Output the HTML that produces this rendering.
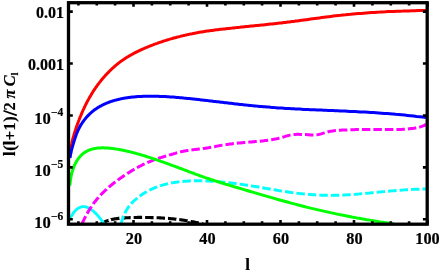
<!DOCTYPE html>
<html><head><meta charset="utf-8"><style>
html,body{margin:0;padding:0;background:#fff;}
svg{display:block;filter:blur(0.45px);}
text{font-family:"Liberation Serif",serif;font-weight:bold;font-size:16.3px;fill:#000;stroke:#000;stroke-width:0.2px;}
</style></head><body>
<svg width="439" height="273" viewBox="0 0 439 273">
<rect width="439" height="273" fill="#fff"/>
<defs><clipPath id="c"><rect x="68.5" y="2.7" width="358.7" height="221.5"/></clipPath></defs>
<g clip-path="url(#c)" fill="none" stroke-linejoin="round">
<path d="M101.0 224.1 L101.2 224.0 L101.3 223.9 L101.5 223.8 L101.6 223.7 L101.8 223.6 L101.9 223.5 L102.1 223.4 L102.2 223.3 L102.4 223.2 L102.5 223.1 L102.7 223.0 L102.8 222.9 L103.0 222.8 L103.1 222.7 L103.3 222.6 L103.5 222.5 L103.6 222.4 L103.8 222.4 L103.9 222.3 L104.1 222.2 L104.2 222.1 L104.4 222.0 L104.6 222.0 L104.7 221.9 L104.9 221.8 L105.0 221.7 L105.2 221.6 L105.4 221.6 L105.5 221.5 L105.7 221.4 L105.8 221.4 L106.0 221.3 L106.2 221.2 L106.3 221.2 L106.5 221.1 L106.7 221.0 L106.8 221.0 L107.0 220.9 L107.2 220.8 L107.3 220.8 L107.5 220.7 L107.6 220.7 L107.8 220.6 L108.0 220.6 L108.2 220.5 L108.3 220.4 L108.5 220.4 L108.7 220.3 L108.8 220.3 L109.0 220.2 L109.2 220.2 L109.3 220.1 L109.5 220.1 L109.7 220.0 L109.9 220.0 L110.0 219.9 L110.2 219.9 L110.4 219.8 L110.5 219.8 L110.7 219.8 L110.9 219.7 L111.1 219.7 L111.2 219.6 L111.4 219.6 L111.6 219.5 L111.8 219.5 L111.9 219.5 L112.1 219.4 L112.3 219.4 L112.5 219.3 L112.7 219.3 L112.8 219.3 L113.0 219.2 L113.2 219.2 L113.4 219.2 L113.6 219.1 L113.7 219.1 L113.9 219.1 L114.1 219.0 L114.3 219.0 L114.5 219.0 L114.7 218.9 L114.8 218.9 L115.0 218.9 L115.2 218.8 L115.4 218.8 L115.6 218.8 L115.8 218.8 L116.0 218.7 L116.1 218.7 L116.3 218.7 L116.5 218.7 L116.7 218.6 L116.9 218.6 L117.1 218.6 L117.3 218.6 L117.5 218.5 L117.7 218.5 L117.8 218.5 L118.0 218.5 L118.2 218.4 L118.4 218.4 L118.6 218.4 L118.8 218.4 L119.0 218.4 L119.2 218.3 L119.4 218.3 L119.6 218.3 L119.8 218.3 L120.0 218.3 L120.2 218.2 L120.4 218.2 L120.6 218.2 L120.8 218.2 L121.0 218.2 L121.2 218.1 L121.4 218.1 L121.6 218.1 L121.8 218.1 L122.0 218.1 L122.2 218.1 L122.4 218.0 L122.6 218.0 L122.8 218.0 L123.0 218.0 L123.2 218.0 L123.4 218.0 L123.6 218.0 L123.8 217.9 L124.0 217.9 L124.2 217.9 L124.4 217.9 L124.6 217.9 L124.9 217.9 L125.1 217.9 L125.3 217.8 L125.5 217.8 L125.7 217.8 L125.9 217.8 L126.1 217.8 L126.3 217.8 L126.5 217.8 L126.8 217.8 L127.0 217.8 L127.2 217.7 L127.4 217.7 L127.6 217.7 L127.8 217.7 L128.1 217.7 L128.3 217.7 L128.5 217.7 L128.7 217.7 L128.9 217.7 L129.1 217.7 L129.4 217.6 L129.6 217.6 L129.8 217.6 L130.0 217.6 L130.2 217.6 L130.5 217.6 L130.7 217.6 L130.9 217.6 L131.1 217.6 L131.4 217.6 L131.6 217.6 L131.8 217.6 L132.0 217.5 L132.3 217.5 L132.5 217.5 L132.7 217.5 L133.0 217.5 L133.2 217.5 L133.4 217.5 L133.6 217.5 L133.9 217.5 L134.1 217.5 L134.3 217.5 L134.6 217.5 L134.8 217.5 L135.0 217.5 L135.3 217.5 L135.5 217.5 L135.7 217.5 L136.0 217.5 L136.2 217.5 L136.5 217.5 L136.7 217.5 L136.9 217.5 L137.2 217.5 L137.4 217.4 L137.6 217.4 L137.9 217.4 L138.1 217.4 L138.4 217.4 L138.6 217.4 L138.9 217.4 L139.1 217.4 L139.3 217.4 L139.6 217.4 L139.8 217.4 L140.1 217.4 L140.3 217.4 L140.6 217.4 L140.8 217.4 L141.1 217.4 L141.3 217.4 L141.6 217.4 L141.8 217.4 L142.1 217.4 L142.3 217.4 L142.6 217.4 L142.8 217.4 L143.1 217.4 L143.3 217.4 L143.6 217.4 L143.9 217.4 L144.1 217.4 L144.4 217.5 L144.6 217.5 L144.9 217.5 L145.1 217.5 L145.4 217.5 L145.7 217.5 L145.9 217.5 L146.2 217.5 L146.4 217.5 L146.7 217.5 L147.0 217.5 L147.2 217.5 L147.5 217.5 L147.8 217.5 L148.0 217.5 L148.3 217.5 L148.6 217.5 L148.8 217.5 L149.1 217.5 L149.4 217.5 L149.6 217.5 L149.9 217.5 L150.2 217.5 L150.4 217.5 L150.7 217.6 L151.0 217.6 L151.3 217.6 L151.5 217.6 L151.8 217.6 L152.1 217.6 L152.4 217.6 L152.6 217.6 L152.9 217.6 L153.2 217.6 L153.5 217.6 L153.8 217.6 L154.0 217.6 L154.3 217.6 L154.6 217.7 L154.9 217.7 L155.2 217.7 L155.5 217.7 L155.7 217.7 L156.0 217.7 L156.3 217.7 L156.6 217.7 L156.9 217.7 L157.2 217.8 L157.5 217.8 L157.8 217.8 L158.0 217.8 L158.3 217.8 L158.6 217.8 L158.9 217.8 L159.2 217.8 L159.5 217.9 L159.8 217.9 L160.1 217.9 L160.4 217.9 L160.7 217.9 L161.0 217.9 L161.3 218.0 L161.6 218.0 L161.9 218.0 L162.2 218.0 L162.5 218.0 L162.8 218.0 L163.1 218.1 L163.4 218.1 L163.7 218.1 L164.0 218.1 L164.3 218.1 L164.6 218.2 L164.9 218.2 L165.2 218.2 L165.5 218.2 L165.9 218.2 L166.2 218.3 L166.5 218.3 L166.8 218.3 L167.1 218.3 L167.4 218.4 L167.7 218.4 L168.0 218.4 L168.4 218.4 L168.7 218.5 L169.0 218.5 L169.3 218.5 L169.6 218.6 L169.9 218.6 L170.3 218.6 L170.6 218.6 L170.9 218.7 L171.2 218.7 L171.6 218.7 L171.9 218.8 L172.2 218.8 L172.5 218.8 L172.9 218.9 L173.2 218.9 L173.5 218.9 L173.8 219.0 L174.2 219.0 L174.5 219.0 L174.8 219.1 L175.2 219.1 L175.5 219.1 L175.8 219.2 L176.2 219.2 L176.5 219.3 L176.8 219.3 L177.2 219.3 L177.5 219.4 L177.9 219.4 L178.2 219.5 L178.5 219.5 L178.9 219.6 L179.2 219.6 L179.6 219.6 L179.9 219.7 L180.3 219.7 L180.6 219.8 L181.0 219.8 L181.3 219.9 L181.6 219.9 L182.0 220.0 L182.3 220.0 L182.7 220.1 L183.0 220.1 L183.4 220.2 L183.8 220.2 L184.1 220.3 L184.5 220.3 L184.8 220.4 L185.2 220.5 L185.5 220.5 L185.9 220.6 L186.3 220.6 L186.6 220.7 L187.0 220.7 L187.3 220.8 L187.7 220.9 L188.1 220.9 L188.4 221.0 L188.8 221.1 L189.2 221.1 L189.5 221.2 L189.9 221.3 L190.3 221.3 L190.6 221.4 L191.0 221.5 L191.4 221.5 L191.8 221.6 L192.1 221.7 L192.5 221.7 L192.9 221.8 L193.3 221.9 L193.6 221.9 L194.0 222.0 L194.4 222.1 L194.8 222.2 L195.2 222.2 L195.5 222.3 L195.9 222.4 L196.3 222.5 L196.7 222.6 L197.1 222.6 L197.5 222.7 L197.9 222.8 L198.3 222.9 L198.6 223.0 L199.0 223.1 L199.4 223.1 L199.8 223.2 L200.2 223.3 L200.6 223.4 L201.0 223.5 L201.4 223.6 L201.8 223.7 L202.2 223.8 L202.6 223.9 L203.0 224.0" stroke="#000" stroke-width="3.1" stroke-dasharray="8.5 3"/>
<path d="M69.5 219.7 L69.6 219.6 L69.6 219.4 L69.7 219.3 L69.7 219.2 L69.8 219.1 L69.8 219.0 L69.9 218.9 L70.0 218.7 L70.0 218.6 L70.1 218.5 L70.1 218.4 L70.2 218.3 L70.3 218.2 L70.3 218.1 L70.4 217.9 L70.4 217.8 L70.5 217.7 L70.5 217.6 L70.6 217.5 L70.7 217.4 L70.7 217.3 L70.8 217.2 L70.8 217.1 L70.9 216.9 L71.0 216.8 L71.0 216.7 L71.1 216.6 L71.1 216.5 L71.2 216.4 L71.3 216.3 L71.3 216.2 L71.4 216.1 L71.5 216.0 L71.5 215.9 L71.6 215.8 L71.6 215.7 L71.7 215.6 L71.8 215.5 L71.8 215.4 L71.9 215.3 L71.9 215.2 L72.0 215.1 L72.1 215.0 L72.1 214.9 L72.2 214.8 L72.3 214.7 L72.3 214.6 L72.4 214.5 L72.4 214.4 L72.5 214.3 L72.6 214.2 L72.6 214.1 L72.7 214.0 L72.8 213.9 L72.8 213.8 L72.9 213.7 L73.0 213.6 L73.0 213.5 L73.1 213.4 L73.1 213.4 L73.2 213.3 L73.3 213.2 L73.3 213.1 L73.4 213.0 L73.5 212.9 L73.5 212.8 L73.6 212.7 L73.7 212.7 L73.7 212.6 L73.8 212.5 L73.9 212.4 L73.9 212.3 L74.0 212.2 L74.1 212.1 L74.1 212.1 L74.2 212.0 L74.3 211.9 L74.3 211.8 L74.4 211.7 L74.5 211.7 L74.5 211.6 L74.6 211.5 L74.7 211.4 L74.7 211.3 L74.8 211.3 L74.9 211.2 L74.9 211.1 L75.0 211.0 L75.1 211.0 L75.1 210.9 L75.2 210.8 L75.3 210.7 L75.3 210.7 L75.4 210.6 L75.5 210.5 L75.5 210.5 L75.6 210.4 L75.7 210.3 L75.8 210.3 L75.8 210.2 L75.9 210.1 L76.0 210.1 L76.0 210.0 L76.1 209.9 L76.2 209.9 L76.2 209.8 L76.3 209.7 L76.4 209.7 L76.5 209.6 L76.5 209.5 L76.6 209.5 L76.7 209.4 L76.7 209.4 L76.8 209.3 L76.9 209.2 L76.9 209.2 L77.0 209.1 L77.1 209.1 L77.2 209.0 L77.2 209.0 L77.3 208.9 L77.4 208.8 L77.5 208.8 L77.5 208.7 L77.6 208.7 L77.7 208.6 L77.7 208.6 L77.8 208.5 L77.9 208.5 L78.0 208.4 L78.0 208.4 L78.1 208.3 L78.2 208.3 L78.3 208.2 L78.3 208.2 L78.4 208.2 L78.5 208.1 L78.6 208.1 L78.6 208.0 L78.7 208.0 L78.8 207.9 L78.9 207.9 L78.9 207.9 L79.0 207.8 L79.1 207.8 L79.2 207.7 L79.2 207.7 L79.3 207.7 L79.4 207.6 L79.5 207.6 L79.5 207.6 L79.6 207.5 L79.7 207.5 L79.8 207.4 L79.9 207.4 L79.9 207.4 L80.0 207.4 L80.1 207.3 L80.2 207.3 L80.2 207.3 L80.3 207.2 L80.4 207.2 L80.5 207.2 L80.6 207.2 L80.6 207.1 L80.7 207.1 L80.8 207.1 L80.9 207.1 L81.0 207.0 L81.0 207.0 L81.1 207.0 L81.2 207.0 L81.3 206.9 L81.4 206.9 L81.4 206.9 L81.5 206.9 L81.6 206.9 L81.7 206.9 L81.8 206.8 L81.8 206.8 L81.9 206.8 L82.0 206.8 L82.1 206.8 L82.2 206.8 L82.2 206.8 L82.3 206.7 L82.4 206.7 L82.5 206.7 L82.6 206.7 L82.7 206.7 L82.7 206.7 L82.8 206.7 L82.9 206.7 L83.0 206.7 L83.1 206.7 L83.2 206.7 L83.2 206.7 L83.3 206.7 L83.4 206.7 L83.5 206.7 L83.6 206.7 L83.7 206.7 L83.7 206.7 L83.8 206.7 L83.9 206.7 L84.0 206.7 L84.1 206.7 L84.2 206.7 L84.3 206.7 L84.3 206.7 L84.4 206.7 L84.5 206.7 L84.6 206.7 L84.7 206.8 L84.8 206.8 L84.9 206.8 L85.0 206.8 L85.0 206.8 L85.1 206.8 L85.2 206.8 L85.3 206.8 L85.4 206.9 L85.5 206.9 L85.6 206.9 L85.7 206.9 L85.7 206.9 L85.8 207.0 L85.9 207.0 L86.0 207.0 L86.1 207.0 L86.2 207.0 L86.3 207.1 L86.4 207.1 L86.5 207.1 L86.6 207.2 L86.6 207.2 L86.7 207.2 L86.8 207.2 L86.9 207.3 L87.0 207.3 L87.1 207.3 L87.2 207.4 L87.3 207.4 L87.4 207.4 L87.5 207.5 L87.6 207.5 L87.6 207.5 L87.7 207.6 L87.8 207.6 L87.9 207.7 L88.0 207.7 L88.1 207.7 L88.2 207.8 L88.3 207.8 L88.4 207.9 L88.5 207.9 L88.6 208.0 L88.7 208.0 L88.8 208.0 L88.9 208.1 L89.0 208.1 L89.1 208.2 L89.2 208.2 L89.2 208.3 L89.3 208.3 L89.4 208.4 L89.5 208.5 L89.6 208.5 L89.7 208.6 L89.8 208.6 L89.9 208.7 L90.0 208.7 L90.1 208.8 L90.2 208.9 L90.3 208.9 L90.4 209.0 L90.5 209.0 L90.6 209.1 L90.7 209.2 L90.8 209.2 L90.9 209.3 L91.0 209.4 L91.1 209.4 L91.2 209.5 L91.3 209.6 L91.4 209.6 L91.5 209.7 L91.6 209.8 L91.7 209.9 L91.8 209.9 L91.9 210.0 L92.0 210.1 L92.1 210.2 L92.2 210.2 L92.3 210.3 L92.4 210.4 L92.5 210.5 L92.6 210.5 L92.7 210.6 L92.8 210.7 L92.9 210.8 L93.0 210.9 L93.1 211.0 L93.2 211.1 L93.3 211.1 L93.4 211.2 L93.5 211.3 L93.6 211.4 L93.7 211.5 L93.8 211.6 L94.0 211.7 L94.1 211.8 L94.2 211.9 L94.3 212.0 L94.4 212.1 L94.5 212.2 L94.6 212.3 L94.7 212.4 L94.8 212.5 L94.9 212.6 L95.0 212.7 L95.1 212.8 L95.2 212.9 L95.3 213.0 L95.4 213.1 L95.5 213.2 L95.7 213.3 L95.8 213.4 L95.9 213.5 L96.0 213.6 L96.1 213.7 L96.2 213.9 L96.3 214.0 L96.4 214.1 L96.5 214.2 L96.6 214.3 L96.7 214.4 L96.9 214.6 L97.0 214.7 L97.1 214.8 L97.2 214.9 L97.3 215.0 L97.4 215.2 L97.5 215.3 L97.6 215.4 L97.7 215.5 L97.9 215.7 L98.0 215.8 L98.1 215.9 L98.2 216.1 L98.3 216.2 L98.4 216.3 L98.5 216.5 L98.6 216.6 L98.8 216.7 L98.9 216.9 L99.0 217.0 L99.1 217.1 L99.2 217.3 L99.3 217.4 L99.4 217.6 L99.6 217.7 L99.7 217.8 L99.8 218.0 L99.9 218.1 L100.0 218.3 L100.1 218.4 L100.3 218.6 L100.4 218.7 L100.5 218.9 L100.6 219.0 L100.7 219.2 L100.9 219.3 L101.0 219.5 L101.1 219.6 L101.2 219.8 L101.3 220.0 L101.4 220.1 L101.6 220.3 L101.7 220.4 L101.8 220.6 L101.9 220.8 L102.0 220.9 L102.2 221.1 L102.3 221.3 L102.4 221.4 L102.5 221.6 L102.6 221.8 L102.8 221.9 L102.9 222.1 L103.0 222.3 L103.1 222.4 L103.3 222.6 L103.4 222.8 L103.5 223.0 L103.6 223.1 L103.8 223.3 L103.9 223.5 L104.0 223.7" stroke="#00ffff" stroke-width="2.8"/>
<path d="M121.0 224.0 L121.1 223.5 L121.3 223.0 L121.4 222.5 L121.6 222.0 L121.7 221.5 L121.9 221.0 L122.0 220.5 L122.2 220.1 L122.3 219.6 L122.5 219.2 L122.6 218.7 L122.8 218.3 L123.0 217.8 L123.1 217.4 L123.3 217.0 L123.4 216.6 L123.6 216.2 L123.8 215.8 L123.9 215.4 L124.1 215.0 L124.3 214.6 L124.4 214.2 L124.6 213.9 L124.8 213.5 L124.9 213.1 L125.1 212.8 L125.3 212.4 L125.5 212.1 L125.6 211.7 L125.8 211.4 L126.0 211.1 L126.2 210.7 L126.3 210.4 L126.5 210.1 L126.7 209.8 L126.9 209.5 L127.1 209.2 L127.3 208.9 L127.5 208.6 L127.6 208.3 L127.8 208.0 L128.0 207.7 L128.2 207.4 L128.4 207.1 L128.6 206.9 L128.8 206.6 L129.0 206.3 L129.2 206.1 L129.4 205.8 L129.6 205.6 L129.8 205.3 L130.0 205.0 L130.2 204.8 L130.4 204.6 L130.6 204.3 L130.9 204.1 L131.1 203.8 L131.3 203.6 L131.5 203.4 L131.7 203.1 L131.9 202.9 L132.2 202.7 L132.4 202.4 L132.6 202.2 L132.8 202.0 L133.1 201.8 L133.3 201.5 L133.5 201.3 L133.7 201.1 L134.0 200.9 L134.2 200.7 L134.4 200.5 L134.7 200.2 L134.9 200.0 L135.2 199.8 L135.4 199.6 L135.7 199.4 L135.9 199.2 L136.1 199.0 L136.4 198.8 L136.6 198.5 L136.9 198.3 L137.2 198.1 L137.4 197.9 L137.7 197.7 L137.9 197.5 L138.2 197.3 L138.4 197.1 L138.7 196.9 L139.0 196.7 L139.3 196.5 L139.5 196.3 L139.8 196.1 L140.1 195.9 L140.3 195.7 L140.6 195.5 L140.9 195.3 L141.2 195.1 L141.5 194.9 L141.8 194.7 L142.0 194.5 L142.3 194.3 L142.6 194.1 L142.9 193.9 L143.2 193.7 L143.5 193.5 L143.8 193.4 L144.1 193.2 L144.4 193.0 L144.7 192.8 L145.0 192.6 L145.3 192.4 L145.7 192.2 L146.0 192.1 L146.3 191.9 L146.6 191.7 L146.9 191.5 L147.3 191.3 L147.6 191.2 L147.9 191.0 L148.2 190.8 L148.6 190.6 L148.9 190.5 L149.2 190.3 L149.6 190.1 L149.9 189.9 L150.3 189.8 L150.6 189.6 L151.0 189.4 L151.3 189.3 L151.7 189.1 L152.0 189.0 L152.4 188.8 L152.7 188.6 L153.1 188.5 L153.5 188.3 L153.8 188.2 L154.2 188.0 L154.6 187.9 L155.0 187.7 L155.3 187.5 L155.7 187.4 L156.1 187.3 L156.5 187.1 L156.9 187.0 L157.3 186.8 L157.7 186.7 L158.1 186.5 L158.5 186.4 L158.9 186.3 L159.3 186.1 L159.7 186.0 L160.1 185.8 L160.5 185.7 L160.9 185.6 L161.4 185.5 L161.8 185.3 L162.2 185.2 L162.6 185.1 L163.1 184.9 L163.5 184.8 L163.9 184.7 L164.4 184.6 L164.8 184.5 L165.3 184.4 L165.7 184.2 L166.2 184.1 L166.6 184.0 L167.1 183.9 L167.6 183.8 L168.0 183.7 L168.5 183.6 L169.0 183.5 L169.4 183.4 L169.9 183.3 L170.4 183.2 L170.9 183.1 L171.4 183.0 L171.9 182.9 L172.4 182.8 L172.9 182.7 L173.4 182.6 L173.9 182.6 L174.4 182.5 L174.9 182.4 L175.4 182.3 L175.9 182.2 L176.5 182.2 L177.0 182.1 L177.5 182.0 L178.0 181.9 L178.6 181.9 L179.1 181.8 L179.7 181.7 L180.2 181.7 L180.8 181.6 L181.3 181.6 L181.9 181.5 L182.5 181.5 L183.0 181.4 L183.6 181.4 L184.2 181.3 L184.8 181.3 L185.3 181.2 L185.9 181.2 L186.5 181.1 L187.1 181.1 L187.7 181.1 L188.3 181.0 L188.9 181.0 L189.5 181.0 L190.2 180.9 L190.8 180.9 L191.4 180.9 L192.0 180.9 L192.7 180.9 L193.3 180.8 L194.0 180.8 L194.6 180.8 L195.3 180.8 L195.9 180.8 L196.6 180.8 L197.2 180.8 L197.9 180.8 L198.6 180.8 L199.3 180.8 L200.0 180.8 L200.6 180.8 L201.3 180.8 L202.0 180.8 L202.7 180.8 L203.4 180.9 L204.2 180.9 L204.9 180.9 L205.6 180.9 L206.3 181.0 L207.1 181.0 L207.8 181.0 L208.5 181.1 L209.3 181.1 L210.1 181.1 L210.8 181.2 L211.6 181.2 L212.3 181.3 L213.1 181.3 L213.9 181.4 L214.7 181.4 L215.5 181.5 L216.3 181.5 L217.1 181.6 L217.9 181.7 L218.7 181.7 L219.5 181.8 L220.3 181.9 L221.2 181.9 L222.0 182.0 L222.8 182.1 L223.7 182.2 L224.5 182.3 L225.4 182.4 L226.3 182.5 L227.1 182.5 L228.0 182.6 L228.9 182.7 L229.8 182.8 L230.7 182.9 L231.6 183.1 L232.5 183.2 L233.4 183.3 L234.3 183.4 L235.3 183.5 L236.2 183.6 L237.1 183.8 L238.1 183.9 L239.0 184.0 L240.0 184.1 L240.9 184.3 L241.9 184.4 L242.9 184.6 L243.9 184.7 L244.9 184.9 L245.9 185.0 L246.9 185.2 L247.9 185.3 L248.9 185.5 L249.9 185.6 L251.0 185.8 L252.0 186.0 L253.1 186.1 L254.1 186.3 L255.2 186.5 L256.3 186.7 L257.3 186.8 L258.4 187.0 L259.5 187.2 L260.6 187.4 L261.7 187.6 L262.8 187.8 L264.0 188.0 L265.1 188.2 L266.2 188.4 L267.4 188.6 L268.5 188.8 L269.7 189.0 L270.9 189.2 L272.0 189.4 L273.2 189.6 L274.4 189.8 L275.6 190.0 L276.8 190.2 L278.0 190.4 L279.3 190.7 L280.5 190.9 L281.8 191.1 L283.0 191.3 L284.3 191.4 L285.5 191.6 L286.8 191.8 L288.1 192.0 L289.4 192.2 L290.7 192.4 L292.0 192.6 L293.4 192.7 L294.7 192.9 L296.0 193.1 L297.4 193.3 L298.7 193.4 L300.1 193.6 L301.5 193.7 L302.9 193.9 L304.3 194.0 L305.7 194.1 L307.1 194.3 L308.5 194.4 L310.0 194.5 L311.4 194.6 L312.9 194.7 L314.4 194.8 L315.8 194.9 L317.3 195.0 L318.8 195.1 L320.3 195.1 L321.9 195.2 L323.4 195.2 L324.9 195.3 L326.5 195.3 L328.0 195.3 L329.6 195.4 L331.2 195.4 L332.8 195.4 L334.4 195.3 L336.0 195.3 L337.6 195.3 L339.3 195.2 L340.9 195.2 L342.6 195.1 L344.3 195.0 L345.9 194.9 L347.6 194.8 L349.3 194.7 L351.1 194.6 L352.8 194.5 L354.5 194.4 L356.3 194.2 L358.1 194.1 L359.8 193.9 L361.6 193.7 L363.4 193.6 L365.3 193.4 L367.1 193.2 L368.9 193.1 L370.8 192.9 L372.7 192.7 L374.5 192.5 L376.4 192.3 L378.3 192.1 L380.3 192.0 L382.2 191.8 L384.1 191.6 L386.1 191.4 L388.1 191.2 L390.1 191.0 L392.1 190.9 L394.1 190.7 L396.1 190.5 L398.1 190.4 L400.2 190.2 L402.3 190.1 L404.3 189.9 L406.4 189.8 L408.6 189.7 L410.7 189.5 L412.8 189.4 L415.0 189.3 L417.2 189.2 L419.3 189.2 L421.5 189.1 L423.8 189.0 L426.0 189.0" stroke="#00ffff" stroke-width="2.9" stroke-dasharray="8.5 3"/>
<path d="M82.0 223.9 L82.2 223.4 L82.5 222.9 L82.7 222.4 L82.9 221.8 L83.2 221.3 L83.4 220.8 L83.7 220.3 L83.9 219.8 L84.2 219.3 L84.4 218.8 L84.6 218.3 L84.9 217.8 L85.1 217.3 L85.4 216.8 L85.7 216.3 L85.9 215.8 L86.2 215.3 L86.4 214.8 L86.7 214.4 L86.9 213.9 L87.2 213.4 L87.5 213.0 L87.7 212.5 L88.0 212.0 L88.3 211.6 L88.5 211.1 L88.8 210.7 L89.1 210.2 L89.3 209.8 L89.6 209.4 L89.9 208.9 L90.2 208.5 L90.5 208.0 L90.7 207.6 L91.0 207.2 L91.3 206.8 L91.6 206.3 L91.9 205.9 L92.2 205.5 L92.5 205.1 L92.8 204.7 L93.0 204.3 L93.3 203.8 L93.6 203.4 L93.9 203.0 L94.2 202.6 L94.5 202.2 L94.8 201.8 L95.2 201.4 L95.5 201.1 L95.8 200.7 L96.1 200.3 L96.4 199.9 L96.7 199.5 L97.0 199.1 L97.3 198.7 L97.7 198.4 L98.0 198.0 L98.3 197.6 L98.6 197.2 L99.0 196.9 L99.3 196.5 L99.6 196.1 L99.9 195.8 L100.3 195.4 L100.6 195.0 L101.0 194.7 L101.3 194.3 L101.6 194.0 L102.0 193.6 L102.3 193.3 L102.7 192.9 L103.0 192.6 L103.4 192.2 L103.7 191.9 L104.1 191.5 L104.4 191.2 L104.8 190.8 L105.2 190.5 L105.5 190.1 L105.9 189.8 L106.3 189.5 L106.6 189.1 L107.0 188.8 L107.4 188.5 L107.7 188.1 L108.1 187.8 L108.5 187.5 L108.9 187.1 L109.3 186.8 L109.7 186.5 L110.0 186.1 L110.4 185.8 L110.8 185.5 L111.2 185.2 L111.6 184.8 L112.0 184.5 L112.4 184.2 L112.8 183.9 L113.2 183.5 L113.6 183.2 L114.0 182.9 L114.5 182.6 L114.9 182.3 L115.3 181.9 L115.7 181.6 L116.1 181.3 L116.6 181.0 L117.0 180.7 L117.4 180.4 L117.8 180.0 L118.3 179.7 L118.7 179.4 L119.2 179.1 L119.6 178.8 L120.0 178.5 L120.5 178.1 L120.9 177.8 L121.4 177.5 L121.8 177.2 L122.3 176.9 L122.8 176.6 L123.2 176.3 L123.7 175.9 L124.1 175.6 L124.6 175.3 L125.1 175.0 L125.6 174.7 L126.0 174.4 L126.5 174.1 L127.0 173.7 L127.5 173.4 L128.0 173.1 L128.5 172.8 L129.0 172.5 L129.5 172.2 L130.0 171.9 L130.5 171.6 L131.0 171.2 L131.5 170.9 L132.0 170.6 L132.5 170.3 L133.0 170.0 L133.5 169.7 L134.0 169.4 L134.6 169.1 L135.1 168.8 L135.6 168.5 L136.2 168.2 L136.7 167.9 L137.2 167.6 L137.8 167.3 L138.3 167.0 L138.9 166.7 L139.4 166.4 L140.0 166.1 L140.5 165.9 L141.1 165.6 L141.7 165.3 L142.2 165.0 L142.8 164.7 L143.4 164.4 L143.9 164.2 L144.5 163.9 L145.1 163.6 L145.7 163.4 L146.3 163.1 L146.9 162.8 L147.5 162.5 L148.1 162.3 L148.7 162.0 L149.3 161.8 L149.9 161.5 L150.5 161.3 L151.1 161.0 L151.7 160.8 L152.4 160.5 L153.0 160.3 L153.6 160.0 L154.2 159.8 L154.9 159.6 L155.5 159.3 L156.2 159.1 L156.8 158.9 L157.5 158.6 L158.1 158.4 L158.8 158.2 L159.4 158.0 L160.1 157.8 L160.8 157.6 L161.4 157.4 L162.1 157.2 L162.8 157.0 L163.5 156.8 L164.2 156.6 L164.9 156.4 L165.6 156.2 L166.3 156.0 L167.0 155.8 L167.7 155.6 L168.4 155.4 L169.1 155.1 L169.8 154.9 L170.6 154.7 L171.3 154.5 L172.0 154.3 L172.7 154.1 L173.5 153.8 L174.2 153.6 L175.0 153.4 L175.7 153.2 L176.5 152.9 L177.3 152.7 L178.0 152.5 L178.8 152.3 L179.6 152.1 L180.3 151.9 L181.1 151.7 L181.9 151.5 L182.7 151.4 L183.5 151.2 L184.3 151.0 L185.1 150.9 L185.9 150.8 L186.7 150.6 L187.5 150.5 L188.4 150.4 L189.2 150.3 L190.0 150.1 L190.9 150.0 L191.7 149.9 L192.5 149.8 L193.4 149.7 L194.2 149.6 L195.1 149.5 L196.0 149.4 L196.8 149.3 L197.7 149.2 L198.6 149.1 L199.5 149.0 L200.4 148.9 L201.3 148.8 L202.2 148.7 L203.1 148.5 L204.0 148.4 L204.9 148.3 L205.8 148.2 L206.7 148.0 L207.7 147.9 L208.6 147.7 L209.5 147.5 L210.5 147.4 L211.4 147.2 L212.4 147.0 L213.3 146.8 L214.3 146.7 L215.3 146.5 L216.3 146.3 L217.2 146.1 L218.2 145.9 L219.2 145.7 L220.2 145.6 L221.2 145.4 L222.2 145.2 L223.3 145.1 L224.3 144.9 L225.3 144.7 L226.3 144.6 L227.4 144.4 L228.4 144.3 L229.5 144.1 L230.5 144.0 L231.6 143.9 L232.7 143.7 L233.7 143.6 L234.8 143.5 L235.9 143.3 L237.0 143.2 L238.1 143.1 L239.2 143.0 L240.3 142.9 L241.4 142.8 L242.5 142.7 L243.7 142.6 L244.8 142.5 L246.0 142.4 L247.1 142.3 L248.3 142.2 L249.4 142.1 L250.6 142.0 L251.8 141.9 L252.9 141.8 L254.1 141.7 L255.3 141.6 L256.5 141.5 L257.7 141.4 L258.9 141.3 L260.2 141.2 L261.4 141.0 L262.6 140.9 L263.9 140.8 L265.1 140.6 L266.4 140.5 L267.6 140.3 L268.9 140.1 L270.2 140.0 L271.5 139.8 L272.7 139.5 L274.0 139.3 L275.3 139.1 L276.7 138.8 L278.0 138.5 L279.3 138.1 L280.6 137.8 L282.0 137.4 L283.3 137.0 L284.7 136.6 L286.0 136.1 L287.4 135.8 L288.8 135.4 L290.2 135.1 L291.6 134.8 L293.0 134.6 L294.4 134.5 L295.8 134.4 L297.2 134.3 L298.7 134.3 L300.1 134.4 L301.6 134.4 L303.0 134.5 L304.5 134.6 L306.0 134.6 L307.4 134.7 L308.9 134.8 L310.4 134.9 L311.9 135.0 L313.5 135.0 L315.0 135.0 L316.5 134.9 L318.1 134.6 L319.6 134.3 L321.2 133.9 L322.7 133.4 L324.3 132.9 L325.9 132.4 L327.5 132.0 L329.1 131.5 L330.7 131.2 L332.3 131.0 L334.0 130.7 L335.6 130.6 L337.2 130.5 L338.9 130.3 L340.6 130.2 L342.2 130.1 L343.9 130.0 L345.6 129.9 L347.3 129.9 L349.0 129.8 L350.8 129.8 L352.5 129.7 L354.2 129.7 L356.0 129.6 L357.7 129.6 L359.5 129.6 L361.3 129.5 L363.1 129.5 L364.9 129.5 L366.7 129.5 L368.5 129.5 L370.4 129.5 L372.2 129.5 L374.1 129.5 L375.9 129.5 L377.8 129.5 L379.7 129.5 L381.6 129.5 L383.5 129.5 L385.4 129.5 L387.3 129.5 L389.2 129.5 L391.2 129.5 L393.1 129.5 L395.1 129.5 L397.1 129.5 L399.1 129.4 L401.1 129.4 L403.1 129.3 L405.1 129.2 L407.2 129.0 L409.2 128.8 L411.3 128.6 L413.3 128.4 L415.4 128.0 L417.5 127.6 L419.6 127.1 L421.7 126.4 L423.9 125.6 L426.0 124.4" stroke="#ff00ff" stroke-width="3" stroke-dasharray="8.5 3"/>
<path d="M69.8 185.6 L69.9 184.7 L70.0 183.8 L70.1 182.9 L70.2 182.1 L70.3 181.3 L70.4 180.6 L70.5 179.8 L70.6 179.1 L70.7 178.4 L70.8 177.8 L70.9 177.2 L71.1 176.6 L71.2 176.0 L71.3 175.4 L71.4 174.9 L71.5 174.4 L71.6 173.9 L71.7 173.4 L71.8 172.9 L72.0 172.5 L72.1 172.1 L72.2 171.6 L72.3 171.2 L72.4 170.8 L72.6 170.5 L72.7 170.1 L72.8 169.7 L72.9 169.4 L73.1 169.0 L73.2 168.7 L73.3 168.3 L73.4 168.0 L73.6 167.6 L73.7 167.3 L73.8 167.0 L74.0 166.6 L74.1 166.3 L74.2 166.0 L74.4 165.7 L74.5 165.4 L74.6 165.1 L74.8 164.7 L74.9 164.4 L75.1 164.1 L75.2 163.8 L75.4 163.6 L75.5 163.3 L75.7 163.0 L75.8 162.7 L76.0 162.4 L76.1 162.1 L76.3 161.9 L76.4 161.6 L76.6 161.3 L76.7 161.1 L76.9 160.8 L77.0 160.5 L77.2 160.3 L77.4 160.0 L77.5 159.8 L77.7 159.5 L77.9 159.3 L78.0 159.1 L78.2 158.8 L78.4 158.6 L78.5 158.3 L78.7 158.1 L78.9 157.9 L79.1 157.7 L79.2 157.5 L79.4 157.2 L79.6 157.0 L79.8 156.8 L80.0 156.6 L80.1 156.4 L80.3 156.2 L80.5 156.0 L80.7 155.8 L80.9 155.6 L81.1 155.4 L81.3 155.2 L81.5 155.0 L81.7 154.8 L81.9 154.6 L82.1 154.5 L82.3 154.3 L82.5 154.1 L82.7 153.9 L82.9 153.8 L83.1 153.6 L83.3 153.4 L83.5 153.3 L83.8 153.1 L84.0 153.0 L84.2 152.8 L84.4 152.6 L84.6 152.5 L84.9 152.3 L85.1 152.2 L85.3 152.0 L85.5 151.9 L85.8 151.8 L86.0 151.6 L86.2 151.5 L86.5 151.4 L86.7 151.2 L87.0 151.1 L87.2 151.0 L87.5 150.9 L87.7 150.7 L88.0 150.6 L88.2 150.5 L88.5 150.4 L88.7 150.3 L89.0 150.2 L89.2 150.1 L89.5 150.0 L89.8 149.9 L90.0 149.8 L90.3 149.7 L90.6 149.6 L90.9 149.5 L91.1 149.4 L91.4 149.3 L91.7 149.2 L92.0 149.2 L92.3 149.1 L92.6 149.0 L92.8 148.9 L93.1 148.9 L93.4 148.8 L93.7 148.7 L94.0 148.7 L94.3 148.6 L94.6 148.5 L95.0 148.5 L95.3 148.4 L95.6 148.4 L95.9 148.3 L96.2 148.3 L96.5 148.2 L96.9 148.2 L97.2 148.1 L97.5 148.1 L97.9 148.1 L98.2 148.0 L98.5 148.0 L98.9 148.0 L99.2 148.0 L99.6 147.9 L99.9 147.9 L100.3 147.9 L100.6 147.9 L101.0 147.9 L101.3 147.9 L101.7 147.8 L102.1 147.8 L102.4 147.8 L102.8 147.8 L103.2 147.8 L103.6 147.8 L104.0 147.9 L104.4 147.9 L104.7 147.9 L105.1 147.9 L105.5 147.9 L105.9 147.9 L106.3 147.9 L106.7 148.0 L107.2 148.0 L107.6 148.0 L108.0 148.0 L108.4 148.1 L108.8 148.1 L109.3 148.2 L109.7 148.2 L110.1 148.2 L110.6 148.3 L111.0 148.3 L111.5 148.4 L111.9 148.4 L112.4 148.5 L112.8 148.5 L113.3 148.6 L113.8 148.7 L114.2 148.7 L114.7 148.8 L115.2 148.9 L115.7 148.9 L116.1 149.0 L116.6 149.1 L117.1 149.2 L117.6 149.3 L118.1 149.3 L118.6 149.4 L119.1 149.5 L119.7 149.6 L120.2 149.7 L120.7 149.8 L121.2 149.9 L121.8 150.0 L122.3 150.1 L122.8 150.2 L123.4 150.3 L123.9 150.5 L124.5 150.6 L125.1 150.7 L125.6 150.8 L126.2 150.9 L126.8 151.1 L127.3 151.2 L127.9 151.3 L128.5 151.5 L129.1 151.6 L129.7 151.8 L130.3 151.9 L130.9 152.1 L131.5 152.2 L132.2 152.4 L132.8 152.5 L133.4 152.7 L134.1 152.9 L134.7 153.0 L135.3 153.2 L136.0 153.4 L136.7 153.6 L137.3 153.8 L138.0 153.9 L138.7 154.1 L139.3 154.3 L140.0 154.5 L140.7 154.7 L141.4 154.9 L142.1 155.2 L142.8 155.4 L143.5 155.6 L144.3 155.8 L145.0 156.0 L145.7 156.2 L146.5 156.5 L147.2 156.7 L148.0 157.0 L148.7 157.2 L149.5 157.4 L150.3 157.7 L151.0 157.9 L151.8 158.2 L152.6 158.5 L153.4 158.7 L154.2 159.0 L155.0 159.3 L155.8 159.5 L156.7 159.8 L157.5 160.1 L158.3 160.4 L159.2 160.7 L160.0 161.0 L160.9 161.3 L161.8 161.6 L162.6 161.9 L163.5 162.2 L164.4 162.5 L165.3 162.9 L166.2 163.2 L167.1 163.5 L168.0 163.8 L169.0 164.2 L169.9 164.5 L170.8 164.9 L171.8 165.2 L172.7 165.6 L173.7 165.9 L174.7 166.3 L175.7 166.7 L176.7 167.0 L177.7 167.4 L178.7 167.8 L179.7 168.2 L180.7 168.5 L181.8 168.9 L182.8 169.3 L183.8 169.7 L184.9 170.1 L186.0 170.5 L187.1 170.9 L188.1 171.3 L189.2 171.8 L190.3 172.2 L191.5 172.6 L192.6 173.0 L193.7 173.4 L194.9 173.9 L196.0 174.3 L197.2 174.7 L198.4 175.1 L199.5 175.6 L200.7 176.0 L201.9 176.4 L203.1 176.8 L204.4 177.3 L205.6 177.7 L206.9 178.1 L208.1 178.5 L209.4 179.0 L210.6 179.4 L211.9 179.8 L213.2 180.2 L214.5 180.7 L215.9 181.1 L217.2 181.5 L218.5 181.9 L219.9 182.4 L221.2 182.8 L222.6 183.2 L224.0 183.6 L225.4 184.1 L226.8 184.5 L228.2 184.9 L229.7 185.4 L231.1 185.8 L232.6 186.2 L234.1 186.7 L235.5 187.1 L237.0 187.5 L238.5 188.0 L240.1 188.4 L241.6 188.9 L243.2 189.3 L244.7 189.8 L246.3 190.3 L247.9 190.7 L249.5 191.2 L251.1 191.7 L252.7 192.1 L254.4 192.6 L256.0 193.1 L257.7 193.6 L259.4 194.1 L261.1 194.6 L262.8 195.1 L264.5 195.6 L266.2 196.1 L268.0 196.6 L269.8 197.1 L271.5 197.6 L273.3 198.1 L275.2 198.6 L277.0 199.2 L278.8 199.7 L280.7 200.2 L282.6 200.7 L284.5 201.3 L286.4 201.8 L288.3 202.3 L290.2 202.9 L292.2 203.4 L294.2 203.9 L296.2 204.4 L298.2 205.0 L300.2 205.5 L302.2 206.0 L304.3 206.5 L306.4 207.1 L308.5 207.6 L310.6 208.1 L312.7 208.6 L314.9 209.1 L317.0 209.6 L319.2 210.1 L321.4 210.6 L323.6 211.1 L325.9 211.6 L328.1 212.1 L330.4 212.6 L332.7 213.1 L335.0 213.6 L337.3 214.1 L339.7 214.6 L342.1 215.1 L344.5 215.5 L346.9 216.0 L349.3 216.5 L351.8 217.0 L354.3 217.4 L356.7 217.9 L359.3 218.3 L361.8 218.8 L364.4 219.2 L366.9 219.7 L369.6 220.1 L372.2 220.6 L374.8 221.0 L377.5 221.4 L380.2 221.9 L382.9 222.3 L385.6 222.7 L388.4 223.1 L391.2 223.5 L394.0 223.9" stroke="#00ff00" stroke-width="3"/>
<path d="M69.9 156.0 L70.0 155.0 L70.1 154.1 L70.2 153.2 L70.3 152.3 L70.4 151.4 L70.5 150.6 L70.6 149.8 L70.8 149.0 L70.9 148.3 L71.0 147.6 L71.1 146.9 L71.2 146.2 L71.3 145.6 L71.4 144.9 L71.5 144.3 L71.7 143.7 L71.8 143.2 L71.9 142.6 L72.0 142.0 L72.1 141.5 L72.3 141.0 L72.4 140.5 L72.5 140.0 L72.6 139.5 L72.8 139.0 L72.9 138.5 L73.0 138.1 L73.2 137.6 L73.3 137.1 L73.4 136.7 L73.6 136.2 L73.7 135.7 L73.8 135.3 L74.0 134.8 L74.1 134.3 L74.2 133.9 L74.4 133.4 L74.5 133.0 L74.7 132.5 L74.8 132.0 L75.0 131.6 L75.1 131.1 L75.3 130.6 L75.4 130.2 L75.6 129.7 L75.7 129.2 L75.9 128.8 L76.0 128.3 L76.2 127.8 L76.3 127.4 L76.5 126.9 L76.7 126.4 L76.8 126.0 L77.0 125.5 L77.2 125.0 L77.3 124.6 L77.5 124.1 L77.7 123.6 L77.8 123.1 L78.0 122.7 L78.2 122.2 L78.4 121.7 L78.5 121.3 L78.7 120.8 L78.9 120.3 L79.1 119.8 L79.3 119.4 L79.4 118.9 L79.6 118.4 L79.8 117.9 L80.0 117.5 L80.2 117.0 L80.4 116.5 L80.6 116.0 L80.8 115.6 L81.0 115.1 L81.2 114.6 L81.4 114.1 L81.6 113.6 L81.8 113.2 L82.0 112.7 L82.2 112.2 L82.4 111.7 L82.6 111.3 L82.8 110.8 L83.0 110.3 L83.3 109.8 L83.5 109.3 L83.7 108.9 L83.9 108.4 L84.2 107.9 L84.4 107.4 L84.6 106.9 L84.8 106.5 L85.1 106.0 L85.3 105.5 L85.5 105.0 L85.8 104.5 L86.0 104.0 L86.3 103.6 L86.5 103.1 L86.8 102.6 L87.0 102.1 L87.3 101.6 L87.5 101.2 L87.8 100.7 L88.0 100.2 L88.3 99.7 L88.6 99.2 L88.8 98.8 L89.1 98.3 L89.4 97.8 L89.6 97.3 L89.9 96.8 L90.2 96.4 L90.5 95.9 L90.8 95.4 L91.0 94.9 L91.3 94.4 L91.6 94.0 L91.9 93.5 L92.2 93.0 L92.5 92.5 L92.8 92.1 L93.1 91.6 L93.4 91.1 L93.7 90.6 L94.0 90.2 L94.3 89.7 L94.7 89.2 L95.0 88.7 L95.3 88.3 L95.6 87.8 L95.9 87.3 L96.3 86.9 L96.6 86.4 L96.9 85.9 L97.3 85.4 L97.6 85.0 L98.0 84.5 L98.3 84.0 L98.7 83.6 L99.0 83.1 L99.4 82.6 L99.7 82.2 L100.1 81.7 L100.5 81.3 L100.8 80.8 L101.2 80.3 L101.6 79.9 L102.0 79.4 L102.3 78.9 L102.7 78.5 L103.1 78.0 L103.5 77.6 L103.9 77.1 L104.3 76.7 L104.7 76.2 L105.1 75.8 L105.5 75.3 L105.9 74.9 L106.4 74.4 L106.8 74.0 L107.2 73.5 L107.6 73.1 L108.1 72.6 L108.5 72.2 L108.9 71.7 L109.4 71.3 L109.8 70.8 L110.3 70.4 L110.7 70.0 L111.2 69.5 L111.6 69.1 L112.1 68.6 L112.6 68.2 L113.1 67.8 L113.5 67.4 L114.0 66.9 L114.5 66.5 L115.0 66.1 L115.5 65.6 L116.0 65.2 L116.5 64.8 L117.0 64.4 L117.5 64.0 L118.0 63.6 L118.6 63.1 L119.1 62.7 L119.6 62.3 L120.1 61.9 L120.7 61.5 L121.2 61.1 L121.8 60.7 L122.3 60.3 L122.9 60.0 L123.5 59.6 L124.0 59.2 L124.6 58.8 L125.2 58.4 L125.8 58.0 L126.4 57.7 L126.9 57.3 L127.5 56.9 L128.2 56.6 L128.8 56.2 L129.4 55.8 L130.0 55.5 L130.6 55.1 L131.3 54.8 L131.9 54.4 L132.5 54.1 L133.2 53.7 L133.8 53.4 L134.5 53.0 L135.2 52.7 L135.8 52.3 L136.5 52.0 L137.2 51.7 L137.9 51.3 L138.6 51.0 L139.3 50.7 L140.0 50.3 L140.7 50.0 L141.4 49.7 L142.1 49.3 L142.9 49.0 L143.6 48.7 L144.3 48.4 L145.1 48.0 L145.9 47.7 L146.6 47.4 L147.4 47.1 L148.2 46.8 L148.9 46.4 L149.7 46.1 L150.5 45.8 L151.3 45.5 L152.2 45.2 L153.0 44.9 L153.8 44.5 L154.6 44.2 L155.5 43.9 L156.3 43.6 L157.2 43.3 L158.0 43.0 L158.9 42.7 L159.8 42.4 L160.7 42.1 L161.6 41.8 L162.5 41.5 L163.4 41.2 L164.3 40.9 L165.2 40.6 L166.1 40.3 L167.1 40.0 L168.0 39.7 L169.0 39.4 L169.9 39.1 L170.9 38.9 L171.9 38.6 L172.9 38.3 L173.9 38.0 L174.9 37.7 L175.9 37.5 L176.9 37.2 L178.0 36.9 L179.0 36.7 L180.1 36.4 L181.1 36.1 L182.2 35.9 L183.3 35.6 L184.4 35.4 L185.5 35.1 L186.6 34.9 L187.7 34.6 L188.8 34.4 L190.0 34.1 L191.1 33.9 L192.3 33.7 L193.4 33.4 L194.6 33.2 L195.8 33.0 L197.0 32.8 L198.2 32.5 L199.4 32.3 L200.6 32.1 L201.9 31.9 L203.1 31.7 L204.4 31.5 L205.7 31.3 L206.9 31.1 L208.2 30.9 L209.5 30.7 L210.9 30.5 L212.2 30.4 L213.5 30.2 L214.9 30.0 L216.2 29.8 L217.6 29.7 L219.0 29.5 L220.4 29.3 L221.8 29.2 L223.2 29.0 L224.7 28.9 L226.1 28.7 L227.6 28.5 L229.1 28.4 L230.6 28.2 L232.1 28.1 L233.6 27.9 L235.1 27.7 L236.6 27.6 L238.2 27.4 L239.7 27.3 L241.3 27.1 L242.9 27.0 L244.5 26.8 L246.2 26.6 L247.8 26.5 L249.4 26.3 L251.1 26.1 L252.8 26.0 L254.5 25.8 L256.2 25.6 L257.9 25.5 L259.6 25.3 L261.4 25.1 L263.2 24.9 L264.9 24.7 L266.7 24.5 L268.6 24.3 L270.4 24.1 L272.2 23.9 L274.1 23.7 L276.0 23.5 L277.9 23.3 L279.8 23.1 L281.7 22.9 L283.7 22.6 L285.6 22.4 L287.6 22.1 L289.6 21.9 L291.6 21.6 L293.6 21.4 L295.7 21.1 L297.7 20.9 L299.8 20.6 L301.9 20.3 L304.0 20.0 L306.2 19.7 L308.3 19.4 L310.5 19.1 L312.7 18.8 L314.9 18.5 L317.2 18.2 L319.4 17.9 L321.7 17.6 L324.0 17.3 L326.3 17.0 L328.6 16.7 L331.0 16.4 L333.3 16.1 L335.7 15.8 L338.2 15.5 L340.6 15.3 L343.0 15.0 L345.5 14.8 L348.0 14.5 L350.5 14.3 L353.1 14.0 L355.7 13.8 L358.2 13.6 L360.8 13.4 L363.5 13.2 L366.1 13.0 L368.8 12.8 L371.5 12.6 L374.2 12.4 L377.0 12.2 L379.8 12.1 L382.6 11.9 L385.4 11.8 L388.2 11.6 L391.1 11.5 L394.0 11.4 L396.9 11.3 L399.9 11.2 L402.8 11.1 L405.8 10.9 L408.8 10.9 L411.9 10.8 L415.0 10.7 L418.1 10.6 L421.2 10.5 L424.4 10.4 L427.5 10.3 L430.8 10.2 L434.0 10.1" stroke="#ff0000" stroke-width="3"/>
<path d="M70.0 157.9 L70.1 157.3 L70.2 156.7 L70.3 156.0 L70.4 155.4 L70.5 154.9 L70.6 154.3 L70.7 153.7 L70.9 153.2 L71.0 152.6 L71.1 152.1 L71.2 151.6 L71.3 151.1 L71.4 150.6 L71.5 150.1 L71.6 149.7 L71.8 149.2 L71.9 148.7 L72.0 148.3 L72.1 147.8 L72.2 147.4 L72.4 146.9 L72.5 146.5 L72.6 146.1 L72.7 145.6 L72.9 145.2 L73.0 144.8 L73.1 144.3 L73.3 143.9 L73.4 143.5 L73.5 143.0 L73.7 142.6 L73.8 142.2 L73.9 141.7 L74.1 141.3 L74.2 140.8 L74.3 140.4 L74.5 139.9 L74.6 139.5 L74.8 139.0 L74.9 138.6 L75.1 138.1 L75.2 137.7 L75.4 137.2 L75.5 136.8 L75.7 136.3 L75.8 135.9 L76.0 135.5 L76.1 135.1 L76.3 134.6 L76.4 134.2 L76.6 133.8 L76.7 133.4 L76.9 133.0 L77.1 132.6 L77.2 132.2 L77.4 131.8 L77.6 131.4 L77.7 131.0 L77.9 130.7 L78.1 130.3 L78.3 129.9 L78.4 129.5 L78.6 129.2 L78.8 128.8 L79.0 128.5 L79.1 128.1 L79.3 127.8 L79.5 127.4 L79.7 127.1 L79.9 126.7 L80.1 126.4 L80.3 126.0 L80.4 125.7 L80.6 125.4 L80.8 125.1 L81.0 124.7 L81.2 124.4 L81.4 124.1 L81.6 123.8 L81.8 123.5 L82.0 123.1 L82.2 122.8 L82.5 122.5 L82.7 122.2 L82.9 121.9 L83.1 121.6 L83.3 121.3 L83.5 121.0 L83.8 120.7 L84.0 120.4 L84.2 120.1 L84.4 119.8 L84.7 119.5 L84.9 119.2 L85.1 119.0 L85.3 118.7 L85.6 118.4 L85.8 118.1 L86.1 117.8 L86.3 117.5 L86.5 117.2 L86.8 117.0 L87.0 116.7 L87.3 116.4 L87.5 116.1 L87.8 115.9 L88.1 115.6 L88.3 115.3 L88.6 115.1 L88.8 114.8 L89.1 114.5 L89.4 114.3 L89.6 114.0 L89.9 113.8 L90.2 113.5 L90.5 113.2 L90.7 113.0 L91.0 112.7 L91.3 112.5 L91.6 112.2 L91.9 112.0 L92.2 111.7 L92.5 111.5 L92.8 111.3 L93.1 111.0 L93.4 110.8 L93.7 110.5 L94.0 110.3 L94.3 110.1 L94.6 109.8 L94.9 109.6 L95.2 109.4 L95.6 109.2 L95.9 108.9 L96.2 108.7 L96.5 108.5 L96.9 108.3 L97.2 108.0 L97.5 107.8 L97.9 107.6 L98.2 107.4 L98.6 107.2 L98.9 107.0 L99.3 106.8 L99.6 106.6 L100.0 106.4 L100.4 106.2 L100.7 106.0 L101.1 105.8 L101.5 105.6 L101.8 105.4 L102.2 105.2 L102.6 105.0 L103.0 104.8 L103.4 104.6 L103.8 104.4 L104.1 104.2 L104.5 104.1 L104.9 103.9 L105.4 103.7 L105.8 103.5 L106.2 103.3 L106.6 103.2 L107.0 103.0 L107.4 102.8 L107.9 102.7 L108.3 102.5 L108.7 102.3 L109.2 102.2 L109.6 102.0 L110.0 101.8 L110.5 101.7 L110.9 101.5 L111.4 101.4 L111.9 101.2 L112.3 101.1 L112.8 100.9 L113.3 100.8 L113.7 100.6 L114.2 100.5 L114.7 100.4 L115.2 100.2 L115.7 100.1 L116.2 100.0 L116.7 99.8 L117.2 99.7 L117.7 99.6 L118.2 99.5 L118.7 99.3 L119.3 99.2 L119.8 99.1 L120.3 99.0 L120.8 98.9 L121.4 98.7 L121.9 98.6 L122.5 98.5 L123.0 98.4 L123.6 98.3 L124.2 98.2 L124.7 98.1 L125.3 98.0 L125.9 97.9 L126.5 97.8 L127.1 97.8 L127.7 97.7 L128.3 97.6 L128.9 97.5 L129.5 97.4 L130.1 97.3 L130.7 97.3 L131.3 97.2 L132.0 97.1 L132.6 97.1 L133.3 97.0 L133.9 96.9 L134.6 96.9 L135.2 96.8 L135.9 96.8 L136.6 96.7 L137.2 96.6 L137.9 96.6 L138.6 96.6 L139.3 96.5 L140.0 96.5 L140.7 96.4 L141.4 96.4 L142.1 96.4 L142.9 96.3 L143.6 96.3 L144.3 96.3 L145.1 96.3 L145.8 96.2 L146.6 96.2 L147.3 96.2 L148.1 96.2 L148.9 96.2 L149.7 96.2 L150.5 96.2 L151.3 96.2 L152.1 96.2 L152.9 96.2 L153.7 96.2 L154.5 96.2 L155.3 96.2 L156.2 96.3 L157.0 96.3 L157.9 96.3 L158.7 96.3 L159.6 96.4 L160.5 96.4 L161.4 96.4 L162.3 96.5 L163.2 96.5 L164.1 96.5 L165.0 96.6 L165.9 96.6 L166.8 96.7 L167.8 96.7 L168.7 96.8 L169.7 96.9 L170.6 96.9 L171.6 97.0 L172.6 97.1 L173.6 97.1 L174.6 97.2 L175.6 97.3 L176.6 97.4 L177.6 97.5 L178.6 97.6 L179.7 97.7 L180.7 97.8 L181.8 97.8 L182.8 97.9 L183.9 98.1 L185.0 98.2 L186.1 98.3 L187.2 98.4 L188.3 98.5 L189.4 98.6 L190.6 98.7 L191.7 98.8 L192.9 99.0 L194.0 99.1 L195.2 99.2 L196.4 99.3 L197.6 99.5 L198.8 99.6 L200.0 99.7 L201.2 99.9 L202.4 100.0 L203.7 100.2 L204.9 100.3 L206.2 100.4 L207.5 100.6 L208.8 100.7 L210.1 100.9 L211.4 101.0 L212.7 101.2 L214.0 101.4 L215.4 101.5 L216.7 101.7 L218.1 101.8 L219.5 102.0 L220.9 102.2 L222.3 102.3 L223.7 102.5 L225.1 102.7 L226.6 102.8 L228.0 103.0 L229.5 103.2 L231.0 103.3 L232.5 103.5 L234.0 103.7 L235.5 103.9 L237.0 104.0 L238.5 104.2 L240.1 104.4 L241.7 104.5 L243.3 104.7 L244.9 104.9 L246.5 105.1 L248.1 105.2 L249.7 105.4 L251.4 105.6 L253.0 105.7 L254.7 105.9 L256.4 106.1 L258.1 106.2 L259.9 106.4 L261.6 106.5 L263.3 106.7 L265.1 106.8 L266.9 107.0 L268.7 107.1 L270.5 107.3 L272.3 107.4 L274.2 107.6 L276.1 107.7 L277.9 107.9 L279.8 108.0 L281.7 108.1 L283.7 108.2 L285.6 108.4 L287.6 108.5 L289.6 108.6 L291.5 108.7 L293.6 108.8 L295.6 108.9 L297.6 109.0 L299.7 109.1 L301.8 109.2 L303.9 109.4 L306.0 109.5 L308.1 109.6 L310.3 109.7 L312.5 109.7 L314.7 109.8 L316.9 109.9 L319.1 110.0 L321.4 110.1 L323.6 110.2 L325.9 110.3 L328.2 110.4 L330.5 110.5 L332.9 110.6 L335.3 110.7 L337.7 110.8 L340.1 110.9 L342.5 111.0 L344.9 111.1 L347.4 111.2 L349.9 111.4 L352.4 111.5 L355.0 111.6 L357.5 111.7 L360.1 111.9 L362.7 112.0 L365.3 112.1 L368.0 112.3 L370.6 112.5 L373.3 112.6 L376.1 112.8 L378.8 113.0 L381.6 113.2 L384.4 113.4 L387.2 113.6 L390.0 113.8 L392.9 114.0 L395.7 114.3 L398.7 114.5 L401.6 114.8 L404.6 115.1 L407.5 115.4 L410.5 115.7 L413.6 116.0 L416.6 116.4 L419.7 116.7 L422.9 117.1 L426.0 117.5" stroke="#0000ff" stroke-width="3"/>
</g>
<path d="M78.4 224.2 v-2.9 M78.4 2.7 v2.9 M96.8 224.2 v-2.9 M96.8 2.7 v2.9 M115.1 224.2 v-2.9 M115.1 2.7 v2.9 M133.5 224.2 v-4.1 M133.5 2.7 v4.1 M151.9 224.2 v-2.9 M151.9 2.7 v2.9 M170.2 224.2 v-2.9 M170.2 2.7 v2.9 M188.6 224.2 v-2.9 M188.6 2.7 v2.9 M207.0 224.2 v-4.1 M207.0 2.7 v4.1 M225.4 224.2 v-2.9 M225.4 2.7 v2.9 M243.8 224.2 v-2.9 M243.8 2.7 v2.9 M262.1 224.2 v-2.9 M262.1 2.7 v2.9 M280.5 224.2 v-4.1 M280.5 2.7 v4.1 M298.9 224.2 v-2.9 M298.9 2.7 v2.9 M317.2 224.2 v-2.9 M317.2 2.7 v2.9 M335.6 224.2 v-2.9 M335.6 2.7 v2.9 M354.0 224.2 v-4.1 M354.0 2.7 v4.1 M372.4 224.2 v-2.9 M372.4 2.7 v2.9 M390.8 224.2 v-2.9 M390.8 2.7 v2.9 M409.1 224.2 v-2.9 M409.1 2.7 v2.9 M427.5 224.2 v-4.1 M427.5 2.7 v4.1 M68.5 219.3 h4.3 M427.2 219.3 h-4.3 M68.5 167.4 h4.3 M427.2 167.4 h-4.3 M68.5 115.5 h4.3 M427.2 115.5 h-4.3 M68.5 63.5 h4.3 M427.2 63.5 h-4.3 M68.5 11.6 h4.3 M427.2 11.6 h-4.3 " stroke="#000" stroke-width="2.6" fill="none"/>
<rect x="68.5" y="2.7" width="358.7" height="221.5" fill="none" stroke="#000" stroke-width="3.3"/>
<g text-anchor="middle">
<text x="134.0" y="244">20</text>
<text x="207.5" y="244">40</text>
<text x="281.0" y="244">60</text>
<text x="354.5" y="244">80</text>
<text x="427.5" y="244">100</text>
<text x="247.6" y="269.6" style="font-size:17px">l</text>
</g>
<g text-anchor="end">
<text x="64" y="17.5" style="font-size:16px">0.01</text>
<text x="64" y="70.0" style="font-size:16px">0.001</text>
<text x="63.2" y="124.0" style="font-size:16.6px">10<tspan font-size="11.5" dy="-8.1">−4</tspan></text>
<text x="63.2" y="175.9" style="font-size:16.6px">10<tspan font-size="11.5" dy="-8.1">−5</tspan></text>
<text x="63.2" y="227.8" style="font-size:16.6px">10<tspan font-size="11.5" dy="-8.1">−6</tspan></text>
</g>
<g transform="translate(14.8,156) rotate(-90)" text-anchor="middle" style="font-size:17px">
<text x="2.3" y="0">l</text>
<text x="8.1" y="0">(</text>
<text x="13.1" y="0">l</text>
<text x="20.5" y="1.3">+</text>
<text x="29.7" y="0">1</text>
<text x="37.0" y="0">)</text>
<text x="49.6" y="0">2</text>
<text x="62.0" y="0" font-style="italic">π</text>
<text x="75.3" y="0" font-style="italic">C</text>
<text x="82.0" y="3.2" style="font-size:11px">l</text>
</g>
<path d="M3.5 110.8 L16.8 115.4" stroke="#000" stroke-width="1.7" fill="none"/>
</svg>
</body></html>
